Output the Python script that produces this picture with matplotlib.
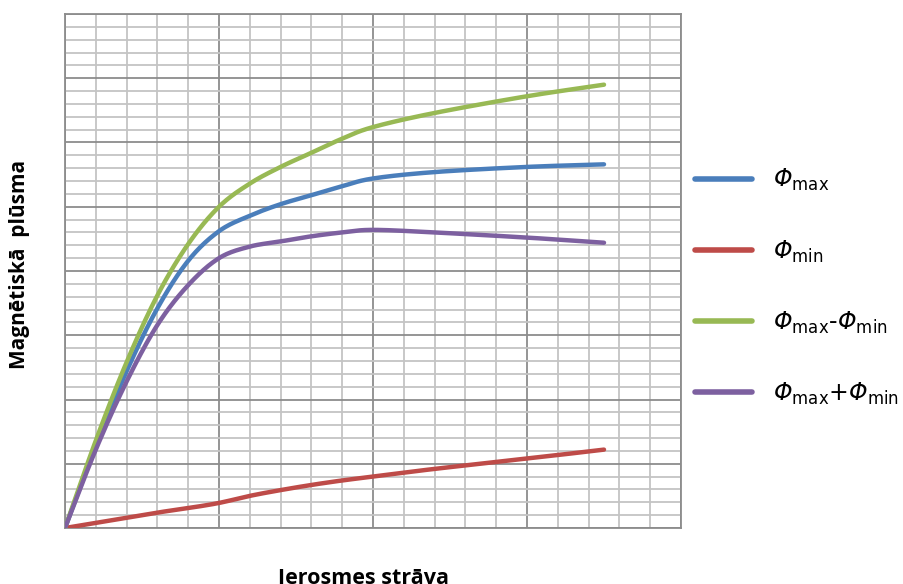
import numpy as np
import matplotlib.pyplot as plt
from matplotlib.ticker import MultipleLocator

# values (x and y in grid cells)
current = [0, 1, 2, 3, 4, 5, 6, 7, 8, 9, 10, 12, 15, 17.5]
phi_max = [0, 6.4, 12.2, 17.1, 20.8, 23.1, 24.3, 25.2, 25.9, 26.6, 27.2, 27.7, 28.1, 28.3]
phi_min = [0, 0.4, 0.8, 1.2, 1.55, 1.95, 2.5, 2.95, 3.35, 3.7, 4.0, 4.6, 5.4, 6.1]
phi_green = [0, 6.8, 12.9, 18.1, 22.1, 25.0, 26.8, 28.1, 29.2, 30.3, 31.2, 32.3, 33.6, 34.5]
phi_purple = [0, 6.1, 11.4, 15.8, 18.9, 21.0, 21.9, 22.3, 22.7, 23.0, 23.2, 23.0, 22.6, 22.2]

labels = [r'$\Phi_{\mathsf{max}}$',
          r'$\Phi_{\mathsf{min}}$',
          r'$\Phi_{\mathsf{max}}$-$\Phi_{\mathsf{min}}$',
          r'$\Phi_{\mathsf{max}}$+$\Phi_{\mathsf{min}}$']
colors = ['#4A7EBB', '#BE4B48', '#98B954', '#7D60A0']


def smooth(xs, ys, n=20):
    # catmull-rom style curve through the points, like a smoothed office line
    xs = np.asarray(xs, float); ys = np.asarray(ys, float)
    px = np.concatenate([[2*xs[0]-xs[1]], xs, [2*xs[-1]-xs[-2]]])
    py = np.concatenate([[2*ys[0]-ys[1]], ys, [2*ys[-1]-ys[-2]]])
    ox = []; oy = []
    t = np.linspace(0, 1, n, endpoint=False)
    for i in range(1, len(px)-2):
        for arr, out in ((px, ox), (py, oy)):
            p0, p1, p2, p3 = arr[i-1], arr[i], arr[i+1], arr[i+2]
            out.extend(0.5*((2*p1) + (-p0+p2)*t + (2*p0-5*p1+4*p2-p3)*t**2
                            + (-p0+3*p1-3*p2+p3)*t**3))
    ox.append(xs[-1]); oy.append(ys[-1])
    return ox, oy


# italic Phi with upright subscripts
plt.rcParams['mathtext.fontset'] = 'custom'
plt.rcParams['mathtext.rm'] = 'DejaVu Sans:italic'
plt.rcParams['mathtext.it'] = 'DejaVu Sans:italic'
plt.rcParams['mathtext.sf'] = 'DejaVu Sans'

fig = plt.figure(figsize=(9.04, 5.84), dpi=100)
ax = fig.add_axes([65/904, 56/584, 616/904, 514/584])

for ys, lab, c in zip([phi_max, phi_min, phi_green, phi_purple], labels, colors):
    sx, sy = smooth(current, ys)
    ax.plot(sx, sy, color=c, lw=3.2, solid_capstyle='round', label=lab, zorder=3)

ax.set_xlim(0, 20)
ax.set_ylim(0, 40)
ax.xaxis.set_major_locator(MultipleLocator(5))
ax.xaxis.set_minor_locator(MultipleLocator(1))
ax.yaxis.set_major_locator(MultipleLocator(5))
ax.yaxis.set_minor_locator(MultipleLocator(1))
ax.grid(which='major', color='#8c8c8c', lw=1.3)
ax.grid(which='minor', color='#c4c4c4', lw=1.3)
ax.tick_params(which='both', length=0, labelbottom=False, labelleft=False)
for s in ['top', 'right', 'left', 'bottom']:
    ax.spines[s].set_color('#8c8c8c')
    ax.spines[s].set_linewidth(1.3)
ax.set_axisbelow(True)

fig.text(364/904, 1 - 579/584, 'Ierosmes strāva', ha='center', va='center',
         fontsize=15.5, fontweight='bold', family='Open Sans')
fig.text(20/904, 1 - 264/584, 'Magnētiskā  plūsma', ha='center', va='center',
         rotation=90, fontsize=15, fontweight='bold', family='Open Sans')

leg = ax.legend(loc='center left', bbox_to_anchor=(630/616, 0.469), frameon=False,
                fontsize=17, handlelength=2.4, handletextpad=0.9, labelspacing=1.9,
                borderaxespad=0, borderpad=0)
for h in leg.get_lines():
    h.set_linewidth(4)

fig.savefig('out.png', dpi=100)
